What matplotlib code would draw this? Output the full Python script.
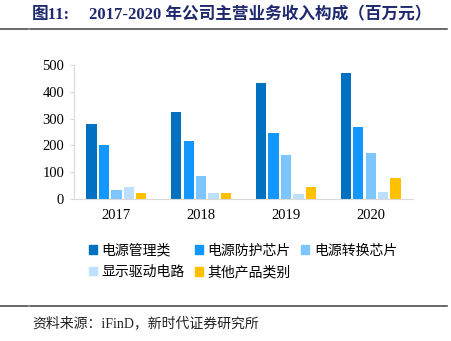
import matplotlib
matplotlib.use('Agg')
import numpy as np
import matplotlib.pyplot as plt
from matplotlib.patches import Patch
from matplotlib.lines import Line2D

plt.rcParams['font.family'] = ['Liberation Serif', 'Noto Sans CJK SC']

# Revenue by business line, million yuan
years = ['2017', '2018', '2019', '2020']
series_names = ['电源管理类', '电源防护芯片', '电源转换芯片', '显示驱动电路', '其他产品类别']
power_mgmt = [280, 323, 431, 468]
power_protect = [202, 217, 246, 268]
power_convert = [34, 85, 163, 172]
display_drive = [44, 22, 20, 27]
other = [22, 22, 46, 77]
series = [power_mgmt, power_protect, power_convert, display_drive, other]
colors = ['#0070C0', '#1296FF', '#7DC5FF', '#BDE0FF', '#FFC000']

fig = plt.figure(figsize=(4.51, 3.41), dpi=100)
ax = fig.add_axes([0.164, 0.416, 0.752, 0.394])

x = np.arange(len(years))
slot = 0.147
width = 0.122
for i, (vals, c) in enumerate(zip(series, colors)):
    ax.bar(x + (i - 2) * slot, vals, width=width, color=c, label=series_names[i])

ax.set_xlim(-0.5, 3.5)
ax.set_ylim(0, 500)
ax.set_yticks(range(0, 501, 100))
ax.set_xticks(x)
ax.set_xticklabels(years)
for s in ['top', 'right']:
    ax.spines[s].set_visible(False)
ax.spines['left'].set_color('#D9D9D9')
ax.spines['bottom'].set_color('#D9D9D9')
ax.tick_params(axis='y', length=3, color='#D9D9D9', labelsize=10.5, pad=4)
ax.tick_params(axis='x', length=0, labelsize=10.5, pad=7)

# legend fills column-wise, so reorder to read across rows
order = [0, 3, 1, 4, 2]
handles = [Patch(color=colors[k]) for k in order]
labels = [series_names[k] for k in order]
fig.legend(handles, labels, loc='upper left', bbox_to_anchor=(0.182, 0.305),
           ncol=3, frameon=False, fontsize=10, handlelength=0.55, handleheight=0.55,
           handletextpad=0.35, columnspacing=0.75, labelspacing=0.6, borderpad=0)

# header and footer
navy = '#1F2A6E'
fig.text(0.071, 0.955, '图11:', fontsize=12, fontweight='bold', color=navy, va='center')
fig.text(0.197, 0.955, '2017-2020 年公司主营业务收入构成（百万元）', fontsize=12,
         fontweight='bold', color=navy, va='center')
fig.add_artist(Line2D([0, 0.062], [0.914, 0.914], color='#404040', lw=1.1))
fig.add_artist(Line2D([0.067, 0.992], [0.914, 0.914], color='#404040', lw=1.1))
fig.add_artist(Line2D([0, 0.062], [0.104, 0.104], color='#404040', lw=1.1))
fig.add_artist(Line2D([0.067, 0.992], [0.104, 0.104], color='#404040', lw=1.1))
fig.text(0.071, 0.053, '资料来源：iFinD，新时代证券研究所', fontsize=10, color='#222222', va='center')

fig.savefig('out.png', dpi=100)
